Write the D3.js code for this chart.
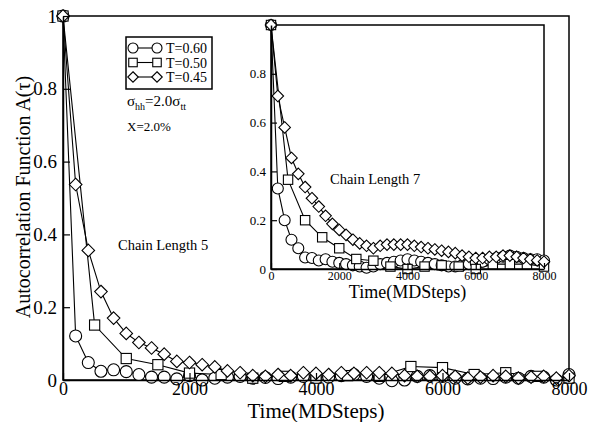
<!DOCTYPE html>
<html lang="en">
<head>
<meta charset="UTF-8">
<title>Autocorrelation Function</title>
<script src="https://cdnjs.cloudflare.com/ajax/libs/d3/7.8.5/d3.min.js"></script>
<style>
  body { margin: 0; background: #fff; }
  svg, svg text { font-family: 'Liberation Serif', 'Times New Roman', serif; }
  .frame { fill: none; stroke: #000; stroke-width: 1.5px; }
  .tick line { stroke: #000; stroke-width: 1.2px; }
  .curve { fill: none; stroke: #000; stroke-width: 1.1px; }
  .mark { fill: #fff; stroke: #000; stroke-width: 1.1px; }
</style>
</head>
<body>
<svg id="chart" width="589" height="422"></svg>
<script>
// legend labels
const temps = ["T=0.60", "T=0.50", "T=0.45"];
const shapes = ["circle", "square", "diamond"];

// time grids (MD steps)
const t200 = d3.range(0, 8001, 200);
const t500 = d3.range(0, 8001, 500);

// Chain Length 5 (main plot)
const c5_T060 = [1, 0.121, 0.048, 0.024, 0.028, 0.023, 0.015, 0.008, 0.008, 0.003, 0.012,
  0.0, 0.005, 0.008, 0.01, 0.005, 0.007, 0.004, 0.008, 0.01, 0.012,
  0.008, 0.012, 0.015, 0.01, 0.005, -0.002, 0.0, 0.01, 0.012, 0.01,
  0.005, 0.003, 0.005, 0.004, 0.008, 0.005, 0.01, 0.008, 0.0, 0.015];
const c5_T050 = [1, 0.151, 0.059, 0.042, 0.019, 0.015, 0.005, 0.01, 0.005, 0.012, 0.01,
  0.037, 0.034, 0.015, 0.02, 0.01, 0.005];
const c5_T045 = [1, 0.537, 0.356, 0.243, 0.170, 0.128, 0.103, 0.088, 0.071, 0.051, 0.048,
  0.042, 0.036, 0.025, 0.020, 0.012, 0.01, 0.015, 0.012, 0.02, 0.018,
  0.015, 0.02, 0.018, 0.02, 0.02, 0.018, 0.012, 0.01, 0.01, 0.012,
  0.01, 0.005, 0.008, 0.012, 0.01, 0.005, 0.008, 0.01, 0.005, 0.012];

// Chain Length 7 (inset)
const c7_T060 = [1, 0.33, 0.20, 0.12, 0.085, 0.047, 0.045, 0.035, 0.04, 0.03, 0.025,
  0.02, 0.015, 0.01, 0.005, 0.01, 0.02, 0.025, 0.03, 0.035, 0.04,
  0.035, 0.03, 0.025, 0.02, 0.015, 0.01, 0.01, 0.015, 0.02, 0.025,
  0.03, 0.04, 0.045, 0.05, 0.055, 0.05, 0.045, 0.04, 0.04, 0.035];
const c7_T050 = [1, 0.366, 0.20, 0.13, 0.085, 0.041, 0.034, 0.01, 0.0, 0.01, 0.015,
  0.01, 0.0, 0.02, 0.02, 0.02, 0.01];
const c7_T045 = [1, 0.709, 0.58, 0.455, 0.39, 0.336, 0.29, 0.256, 0.218, 0.185, 0.16,
  0.14, 0.12, 0.105, 0.095, 0.085, 0.095, 0.1, 0.1, 0.1, 0.1,
  0.095, 0.09, 0.085, 0.08, 0.075, 0.07, 0.065, 0.055, 0.05, 0.045,
  0.045, 0.05, 0.05, 0.055, 0.055, 0.05, 0.045, 0.04, 0.035, 0.03];

const mainTicksX = [0, 2000, 4000, 6000, 8000];
const mainTicksY = [0, 0.2, 0.4, 0.6, 0.8, 1];
const insetTicksY = [0, 0.2, 0.4, 0.6, 0.8];

const svg = d3.select("#chart").attr("font-family", "'Liberation Serif', serif");

function drawMarker(g, shape, x, y, r) {
  if (shape === "circle") {
    g.append("circle").attr("class", "mark").attr("cx", x).attr("cy", y).attr("r", r);
  } else if (shape === "square") {
    g.append("rect").attr("class", "mark")
      .attr("x", x - r * 0.85).attr("y", y - r * 0.85)
      .attr("width", r * 1.7).attr("height", r * 1.7);
  } else {
    const d = r * 1.05;
    g.append("path").attr("class", "mark")
      .attr("d", `M${x},${y - d}L${x + d},${y}L${x},${y + d}L${x - d},${y}Z`);
  }
}

function panel(opt) {
  const x = d3.scaleLinear().domain([0, 8000]).range([opt.left, opt.right]);
  const y = d3.scaleLinear().domain([0, 1]).range([opt.bottom, opt.top]);
  const g = svg.append("g");

  g.append("rect").attr("class", "frame")
    .attr("x", opt.left).attr("y", opt.top)
    .attr("width", opt.right - opt.left).attr("height", opt.bottom - opt.top)
    .style("fill", "#fff");

  const series = [
    { t: t200, v: opt.data[0], shape: "circle" },
    { t: t500, v: opt.data[1], shape: "square" },
    { t: t200, v: opt.data[2], shape: "diamond" }
  ];
  const line = d3.line().x(d => x(d[0])).y(d => y(d[1]));
  series.forEach(s => {
    const pts = s.t.map((t, i) => [t, s.v[i]]);
    g.append("path").attr("class", "curve").attr("d", line(pts));
  });
  series.forEach(s => {
    s.t.forEach((t, i) => drawMarker(g, s.shape, x(t), y(s.v[i]), opt.r));
  });

  // axes with inward ticks
  const ax = g.append("g").attr("transform", `translate(0,${opt.bottom})`)
    .call(d3.axisBottom(x).tickValues(opt.xt).tickFormat(d3.format("d"))
      .tickSizeInner(-opt.tick).tickSizeOuter(0).tickPadding(opt.padX))
    .attr("font-family", null).attr("font-size", null);
  ax.select(".domain").attr("stroke-width", 1.5);
  ax.selectAll("text").style("font-size", opt.fs + "px").attr("fill", "#000");

  const ay = g.append("g").attr("transform", `translate(${opt.left},0)`)
    .call(d3.axisLeft(y).tickValues(opt.yt).tickFormat(d => d === 0 || d === 1 ? d : d3.format(".1f")(d))
      .tickSizeInner(-opt.tick).tickSizeOuter(0).tickPadding(opt.padY))
    .attr("font-family", null).attr("font-size", null);
  ay.select(".domain").attr("stroke-width", 1.5);
  ay.selectAll("text").style("font-size", opt.fsY + "px").attr("fill", "#000");

  g.append("text")
    .attr("x", (opt.left + opt.right) / 2).attr("y", opt.xlabY)
    .attr("text-anchor", "middle").style("font-size", opt.labFs + "px")
    .text("Time(MDSteps)");

  g.append("text").attr("x", opt.noteX).attr("y", opt.noteY)
    .style("font-size", "14.5px").text(opt.note);
  return g;
}

panel({
  left: 63, right: 569, top: 16, bottom: 380, r: 6,
  data: [c5_T060, c5_T050, c5_T045],
  xt: mainTicksX, yt: mainTicksY, tick: 7, padX: 2, padY: 6, fs: 18, fsY: 19,
  labFs: 21, xlabY: 418, note: "Chain Length 5", noteX: 118, noteY: 250
});

// y label of main plot
svg.append("text")
  .attr("transform", "translate(30,197) rotate(-90)")
  .attr("text-anchor", "middle").style("font-size", "20px")
  .text("Autocorrelation Function A(τ)");

panel({
  left: 271, right: 544, top: 25, bottom: 269, r: 5.5,
  data: [c7_T060, c7_T050, c7_T045],
  xt: mainTicksX, yt: insetTicksY, tick: 6, padX: 2, padY: 5, fs: 12, fsY: 13,
  labFs: 18, xlabY: 298, note: "Chain Length 7", noteX: 330, noteY: 184
});

// legend
const leg = svg.append("g");
leg.append("rect").attr("class", "frame").attr("x", 126).attr("y", 37)
  .attr("width", 86).attr("height", 52).style("fill", "#fff");
temps.forEach((t, i) => {
  const yy = 48 + i * 14.5;
  leg.append("line").attr("x1", 133).attr("x2", 157).attr("y1", yy).attr("y2", yy)
    .attr("stroke", "#000").attr("stroke-width", 1.1);
  drawMarker(leg, shapes[i], 133, yy, 5);
  drawMarker(leg, shapes[i], 157, yy, 5);
  leg.append("text").attr("x", 166).attr("y", yy + 5).style("font-size", "14px").text(t);
});

// annotation
const ann = svg.append("text").attr("x", 127).attr("y", 106).style("font-size", "15px");
ann.append("tspan").text("σ");
ann.append("tspan").attr("dy", 4).style("font-size", "10px").text("hh");
ann.append("tspan").attr("dy", -4).text("=2.0σ");
ann.append("tspan").attr("dy", 4).style("font-size", "10px").text("tt");
svg.append("text").attr("x", 127).attr("y", 131).style("font-size", "13px").text("X=2.0%");
</script>
</body>
</html>
